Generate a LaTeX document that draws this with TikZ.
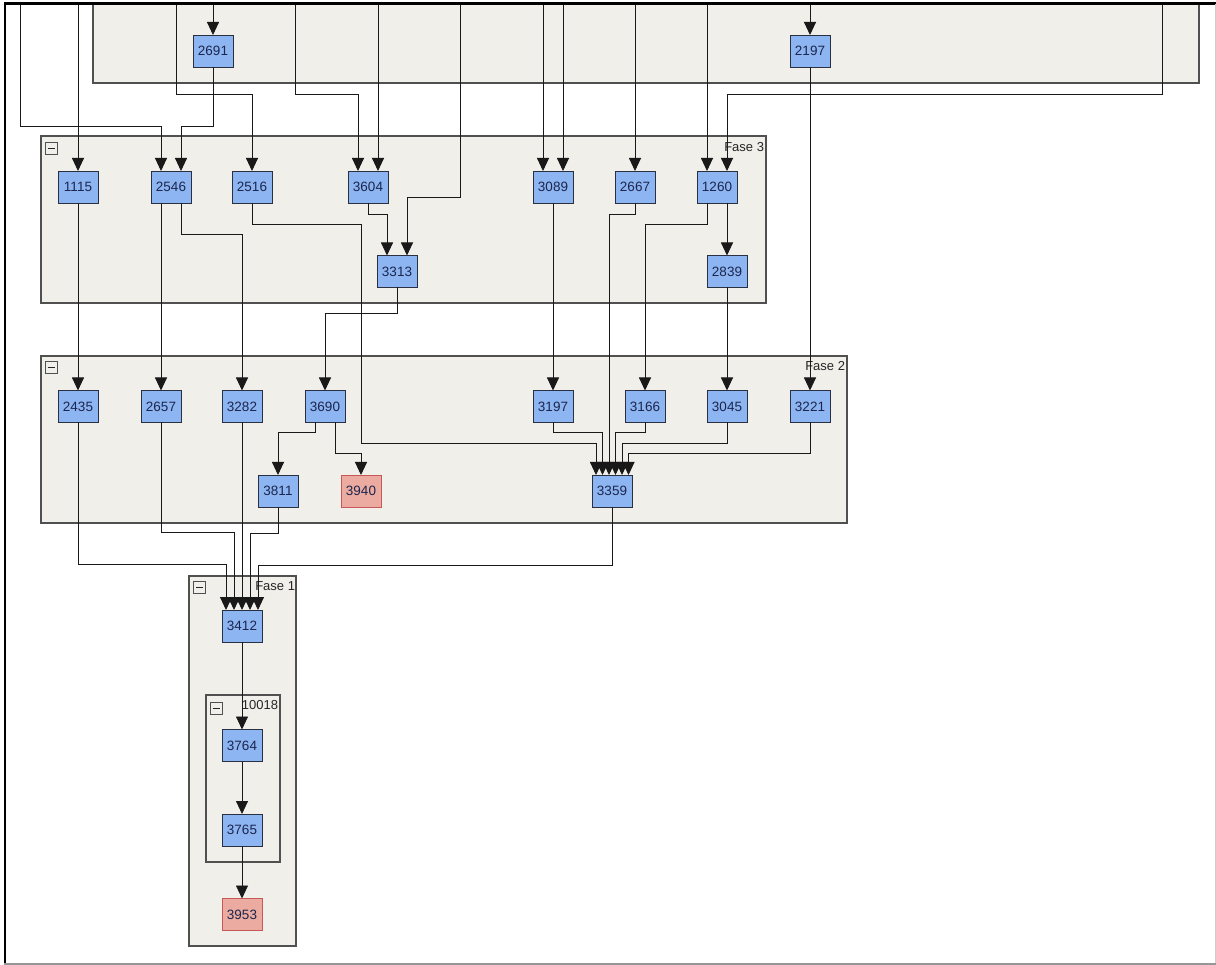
\documentclass[tikz,border=0pt]{standalone}
\usepackage{fontspec}
\setmainfont{Liberation Sans}
\usetikzlibrary{arrows.meta}
\definecolor{nodeblue}{RGB}{141,181,241}
\definecolor{nodeedge}{RGB}{40,48,66}
\definecolor{nodetext}{RGB}{28,38,78}
\definecolor{nodered}{RGB}{235,171,160}
\definecolor{rededge}{RGB}{200,88,88}
\definecolor{grpfill}{RGB}{240,239,234}
\definecolor{grpedge}{RGB}{80,80,80}
\definecolor{framegray}{RGB}{150,150,150}
\tikzset{
  box/.style={draw=nodeedge, fill=nodeblue, line width=0.8pt, minimum width=40pt, minimum height=32pt,
    inner sep=0pt, outer sep=0pt, text=nodetext, font=\fontsize{13.5}{13.5}\selectfont},
  redbox/.style={box, fill=nodered, draw=rededge},
  grp/.style={draw=grpedge, fill=grpfill, line width=1.1pt},
  conn/.style={draw=black!90, line width=0.9pt, -{Triangle[width=12pt,length=13pt]}},
  lbl/.style={anchor=east, inner sep=0pt, outer sep=0pt, text=black!85, font=\fontsize{13}{13}\selectfont},
  minusbox/.style={draw=grpedge, fill=grpfill, line width=0.8pt, minimum width=12pt, minimum height=12pt, inner sep=0pt, outer sep=0pt}
}
\begin{document}
\begin{tikzpicture}[x=1pt,y=-1pt]
\useasboundingbox (0,0) rectangle (1216,965);
\fill[white] (0,0) rectangle (1216,965);
% groups
\draw[grp] (93,2) rectangle (1199,83);
\draw[grp] (41,136) rectangle (766,303);
\draw[grp] (41,356) rectangle (847,523);
\draw[grp] (189,576) rectangle (296,946);
\draw[grp] (206,695) rectangle (280,862);
% group labels
\node[lbl] (l3) at (764,147) {Fase 3};
\node[lbl] (l2) at (845,366.5) {Fase 2};
\node[lbl] (l1) at (295,586.5) {Fase 1};
\node[lbl] (l10018) at (278,705.5) {10018};
% collapse icons
\node[minusbox] (m3) at (51,148) {};
\node[minusbox] (m2) at (51,367) {};
\node[minusbox] (m1) at (199.5,587.5) {};
\node[minusbox] (m10018) at (216,708) {};
\foreach \m in {m3,m2,m1,m10018}{
  \draw[line width=0.9pt, draw=black!85] ([xshift=2.5pt]\m.west) -- ([xshift=-2.5pt]\m.east);
}
% nodes
\node[box] (n2691) at (213,51) {2691};
\node[box] (n2197) at (810,51) {2197};
\node[box] (n1115) at (78,187) {1115};
\node[box] (n2546) at (171,187) {2546};
\node[box] (n2516) at (252,187) {2516};
\node[box] (n3604) at (368,187) {3604};
\node[box] (n3089) at (553,187) {3089};
\node[box] (n2667) at (635,187) {2667};
\node[box] (n1260) at (717,187) {1260};
\node[box] (n3313) at (397,271.5) {3313};
\node[box] (n2839) at (727,271.5) {2839};
\node[box] (n2435) at (78,406.5) {2435};
\node[box] (n2657) at (161,406.5) {2657};
\node[box] (n3282) at (242,406.5) {3282};
\node[box] (n3690) at (325,406.5) {3690};
\node[box] (n3197) at (553,406.5) {3197};
\node[box] (n3166) at (645,406.5) {3166};
\node[box] (n3045) at (727,406.5) {3045};
\node[box] (n3221) at (810,406.5) {3221};
\node[box] (n3811) at (278,491) {3811};
\node[redbox] (n3940) at (361,491) {3940};
\node[box] (n3359) at (612,491) {3359};
\node[box] (n3412) at (242,626) {3412};
\node[box] (n3764) at (242,745.5) {3764};
\node[box] (n3765) at (242,830) {3765};
\node[redbox] (n3953) at (242,914.5) {3953};
% free ends at the top
\coordinate (t20) at (20,4);
\coordinate (t78) at (78,4);
\coordinate (t176) at (176,4);
\coordinate (t213) at (213,4);
\coordinate (t295) at (295,4);
\coordinate (t378) at (378,4);
\coordinate (t460) at (460,4);
\coordinate (t543) at (543,4);
\coordinate (t563) at (563,4);
\coordinate (t635) at (635,4);
\coordinate (t707) at (707,4);
\coordinate (t810) at (810,4);
\coordinate (t1162) at (1162,4);
% connectors from top
\draw[conn] (t20) -- (20,126) -| ([xshift=-10pt]n2546.north);
\draw[conn] (t78) -- (n1115.north);
\draw[conn] (t176) -- (176,94) -| (n2516.north);
\draw[conn] (t213) -- (n2691.north);
\draw[conn] (n2691.south) -- (213,126) -| ([xshift=10pt]n2546.north);
\draw[conn] (t295) -- (295,94) -| ([xshift=-10pt]n3604.north);
\draw[conn] (t378) -- ([xshift=10pt]n3604.north);
\draw[conn] (t460) -- (460,197) -| ([xshift=10pt]n3313.north);
\draw[conn] (t543) -- ([xshift=-10pt]n3089.north);
\draw[conn] (t563) -- ([xshift=10pt]n3089.north);
\draw[conn] (t635) -- (n2667.north);
\draw[conn] (t707) -- ([xshift=-10pt]n1260.north);
\draw[conn] (t810) -- (n2197.north);
\draw[conn] (t1162) -- (1162,94) -| ([xshift=10pt]n1260.north);
\draw[conn] (n2197.south) -- (n3221.north);
% Fase 3 out
\draw[conn] (n1115.south) -- (n2435.north);
\draw[conn] ([xshift=-10pt]n2546.south) -- (n2657.north);
\draw[conn] ([xshift=10pt]n2546.south) -- ++(0,31) -| (n3282.north);
\draw[conn] (n2516.south) -- ++(0,21) -- (361,224) -- (361,443) -| ([xshift=-16pt]n3359.north);
\draw[conn] (n3604.south) -- ++(0,11) -| ([xshift=-10pt]n3313.north);
\draw[conn] (n3313.south) -- ++(0,26) -| (n3690.north);
\draw[conn] (n3089.south) -- (n3197.north);
\draw[conn] (n2667.south) -- ++(0,11) -| ([xshift=-3pt]n3359.north);
\draw[conn] ([xshift=-10pt]n1260.south) -- ++(0,21) -| (n3166.north);
\draw[conn] ([xshift=10pt]n1260.south) -- (n2839.north);
\draw[conn] (n2839.south) -- (n3045.north);
% Fase 2 internal
\draw[conn] ([xshift=-10pt]n3690.south) -- ++(0,10) -| (n3811.north);
\draw[conn] ([xshift=10pt]n3690.south) -- ++(0,31) -| (n3940.north);
\draw[conn] (n3197.south) -- ++(0,10) -| ([xshift=-9.5pt]n3359.north);
\draw[conn] (n3166.south) -- ++(0,10) -| ([xshift=3.5pt]n3359.north);
\draw[conn] (n3045.south) -- ++(0,21) -| ([xshift=10pt]n3359.north);
\draw[conn] (n3221.south) -- ++(0,31) -| ([xshift=16.5pt]n3359.north);
% into Fase 1
\draw[conn] (n2435.south) -- ++(0,142) -| ([xshift=-16pt]n3412.north);
\draw[conn] (n2657.south) -- ++(0,110) -| ([xshift=-8pt]n3412.north);
\draw[conn] (n3282.south) -- (n3412.north);
\draw[conn] (n3811.south) -- ++(0,26) -| ([xshift=8pt]n3412.north);
\draw[conn] (n3359.south) -- ++(0,58) -| ([xshift=16pt]n3412.north);
\draw[conn] (n3412.south) -- (n3764.north);
\draw[conn] (n3764.south) -- (n3765.north);
\draw[conn] (n3765.south) -- (n3953.north);
% frame
\fill[white] (0,0) rectangle (1216,2.6);
\draw[line width=2.2pt, black] (4,3.6) -- (1216,3.6);
\draw[line width=2.2pt, black] (5,3) -- (5,964);
\draw[line width=1.5pt, framegray] (4,963.8) -- (1216,963.8);
\draw[line width=1pt, black!20] (1215,4) -- (1215,963);
\end{tikzpicture}
\end{document}
